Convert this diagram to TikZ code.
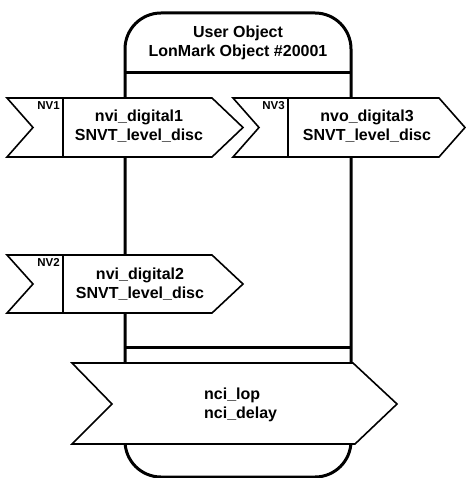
\documentclass[tikz,border=0pt]{standalone}
\usepackage{fontspec}
\setmainfont{Liberation Sans}
\begin{document}
\begin{tikzpicture}[x=1pt,y=-1pt,
  body/.style={line width=3pt,line join=round},
  arrowbox/.style={draw,fill=white,line width=1.6pt,line join=miter},
  divline/.style={line width=1.2pt},
  maintext/.style={font=\bfseries\fontsize{16}{19}\selectfont,align=center,inner sep=0pt},
  nvtext/.style={font=\bfseries\fontsize{11.5}{13}\selectfont,inner sep=0pt,anchor=north east}]
\useasboundingbox (0,0) rectangle (465,478);
% object body
\draw[body,rounded corners=36pt] (125,13) rectangle (351,477);
\draw[body] (125,73) -- (351,73);
\draw[body] (125,347) -- (351,347);
\node[maintext] (title) at (238,43) {User Object\\LonMark Object \#20001};
% NV1
\draw[arrowbox] (7,98) -- (212,98) -- (243,127.5) -- (212,157) -- (7,157) -- (33,127.5) -- cycle;
\draw[divline] (63,98) -- (63,157);
\node[nvtext] (nv1) at (60,101) {NV1};
\node[maintext] (nvi1) at (139,126) {nvi\_digital1\\SNVT\_level\_disc};
% NV3
\draw[arrowbox] (233,98) -- (439,98) -- (465,127.5) -- (439,157) -- (233,157) -- (259,127.5) -- cycle;
\draw[divline] (288,98) -- (288,157);
\node[nvtext] (nv3) at (285,101) {NV3};
\node[maintext] (nvo3) at (367,126) {nvo\_digital3\\SNVT\_level\_disc};
% NV2
\draw[arrowbox] (7,255) -- (212,255) -- (243,284) -- (212,313) -- (7,313) -- (33,284) -- cycle;
\draw[divline] (63,255) -- (63,313);
\node[nvtext] (nv2) at (60,258) {NV2};
\node[maintext] (nvi2) at (140,284) {nvi\_digital2\\SNVT\_level\_disc};
% config properties
\draw[arrowbox] (72,363) -- (353,363) -- (397,404) -- (355,444) -- (72,444) -- (112,404) -- cycle;
\node[maintext,align=left,anchor=west] (nci) at (204,405) {nci\_lop\\nci\_delay};
\end{tikzpicture}
\end{document}
